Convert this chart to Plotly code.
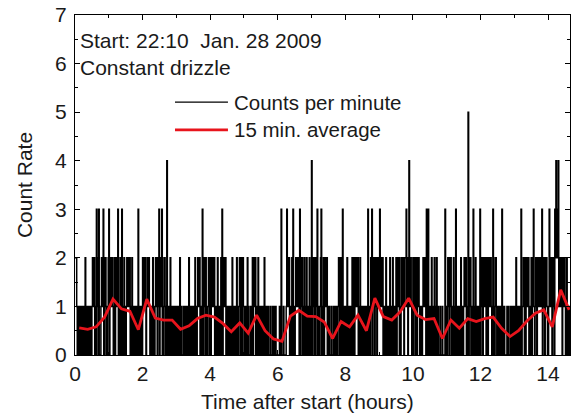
import plotly.graph_objects as go

# Counts per minute, one digit per minute, grouped in 15-minute blocks
count_blocks = [
    "222100101001010", "010201001010100", "121220103210300", "012213012201012",
    "302121210120121", "130102013010201", "012212120102101", "001010030010010",
    "212121012212101", "010201012120123", "012130102210140", "101020101001010",
    "010010201000101", "101001020101010", "010201012122010", "130121020101210",
    "201212120101020", "010120301212201", "010010100201010", "102010121020121",
    "010010201000101", "201212010120101", "010100201010010", "001000100101000",
    "000100300010000", "132122010120301", "012212120301220", "102010201012010",
    "401210201230100", "123010201212201", "010001000100101", "101220120130101",
    "010201010010201", "201212120102010", "010100101030100", "213012102120121",
    "131212201010210", "101020101201010", "201212010212120", "122312014212101",
    "201210201221010", "101212120301301", "010201012010201", "000100010000300",
    "102210221010201", "030101001020100", "121220105012201", "103010201001013",
    "012201212201201", "221210130102210", "010100103010100", "001010001001010",
    "010201001010301", "121020121220101", "201231012201221", "122130122012210",
    "013212102210324", "232412121201212", "101201010",
]
counts = [int(c) for c in "".join(count_blocks)]
minutes = list(range(len(counts)))
hours = [m / 60 for m in minutes]

# 15-minute average
avg_hours = [0.125, 0.375, 0.625, 0.875, 1.125, 1.375, 1.625, 1.875, 2.125, 2.375,
             2.625, 2.875, 3.125, 3.375, 3.625, 3.875, 4.125, 4.375, 4.625, 4.875,
             5.125, 5.375, 5.625, 5.875, 6.125, 6.375, 6.625, 6.875, 7.125, 7.375,
             7.625, 7.875, 8.125, 8.375, 8.625, 8.875, 9.125, 9.375, 9.625, 9.875,
             10.125, 10.375, 10.625, 10.875, 11.125, 11.375, 11.625, 11.875, 12.125, 12.375,
             12.625, 12.875, 13.125, 13.375, 13.625, 13.875, 14.125, 14.375, 14.625]
avg_values = [0.56, 0.53, 0.58, 0.78, 1.15, 0.95, 0.90, 0.52, 1.15, 0.76,
              0.72, 0.72, 0.53, 0.60, 0.75, 0.82, 0.78, 0.65, 0.48, 0.66,
              0.45, 0.82, 0.50, 0.33, 0.28, 0.80, 0.92, 0.80, 0.79, 0.68,
              0.34, 0.69, 0.58, 0.82, 0.50, 1.17, 0.79, 0.72, 0.89, 1.17,
              0.82, 0.73, 0.75, 0.34, 0.72, 0.55, 0.75, 0.69, 0.75, 0.78,
              0.55, 0.38, 0.50, 0.70, 0.86, 0.93, 0.58, 1.34, 0.93]

x_ticks = [0, 2, 4, 6, 8, 10, 12, 14]
y_ticks = [0, 1, 2, 3, 4, 5, 6, 7]

series_names = ["Counts per minute", "15 min. average"]
series_colors = ["black", "#e8141c"]
series_widths = [1.5, 2.8]

FONT = "Liberation Sans, Arial, sans-serif"
TXT = "#1a1a1a"
FS = 21

fig = go.Figure()
fig.add_trace(go.Scatter(x=hours, y=counts, mode="lines", line_shape="hv",
                         line=dict(color=series_colors[0], width=series_widths[0]),
                         name=series_names[0]))
fig.add_trace(go.Scatter(x=avg_hours, y=avg_values, mode="lines",
                         line=dict(color=series_colors[1], width=series_widths[1]),
                         name=series_names[1]))

axis_common = dict(showline=True, linecolor="black", linewidth=1, mirror="ticks",
                   ticks="inside", ticklen=5, tickcolor="black", showgrid=False,
                   zeroline=False, tickfont=dict(family=FONT, size=FS, color=TXT))
fig.update_xaxes(range=[0, 14.65], tickvals=x_ticks, ticktext=[str(v) for v in x_ticks],
                 minor=dict(ticks="inside", ticklen=3, dtick=1, tick0=0, tickcolor="black"),
                 **axis_common)
fig.update_yaxes(range=[0, 7], tickvals=y_ticks, ticktext=[str(v) for v in y_ticks],
                 minor=dict(ticks="inside", ticklen=3, dtick=0.5, tick0=0, tickcolor="black"),
                 title=dict(text="Count Rate", font=dict(family=FONT, size=FS, color=TXT), standoff=16),
                 ticklabelstandoff=3,
                 **axis_common)

# x-axis title (placed slightly left of centre, as in the original)
fig.add_annotation(text="Time after start (hours)", xref="paper", yref="paper",
                   x=0.469, y=-0.138, xanchor="center", yanchor="middle", showarrow=False,
                   font=dict(family=FONT, size=FS, color=TXT))

fig.add_annotation(text="Start: 22:10  Jan. 28 2009", xref="paper", yref="paper",
                   x=0.006, y=0.926, xanchor="left", yanchor="middle", showarrow=False,
                   font=dict(family=FONT, size=FS, color=TXT))
fig.add_annotation(text="Constant drizzle", xref="paper", yref="paper",
                   x=0.006, y=0.847, xanchor="left", yanchor="middle", showarrow=False,
                   font=dict(family=FONT, size=FS, color=TXT))

# Legend drawn as sample lines + labels inside the plot area
legend_y = [0.744, 0.662]
for name, color, width, ly in zip(series_names, series_colors, [1.2, 2.8], legend_y):
    fig.add_shape(type="line", xref="paper", yref="paper", x0=0.202, x1=0.309, y0=ly, y1=ly,
                  line=dict(color=color, width=width))
    fig.add_annotation(text=name, xref="paper", yref="paper", x=0.318, y=ly,
                       xanchor="left", yanchor="middle", showarrow=False,
                       font=dict(family=FONT, size=FS - 0.5, color=TXT))

fig.update_layout(
    width=574, height=416,
    margin=dict(l=75, r=4, t=15, b=61),
    plot_bgcolor="white", paper_bgcolor="white",
    showlegend=False,
)

fig.write_html("out.html")
